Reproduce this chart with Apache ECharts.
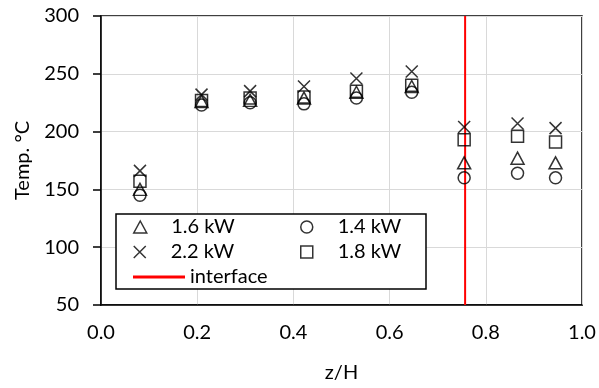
<!DOCTYPE html>
<html><head><meta charset="utf-8">
<script src="https://cdn.jsdelivr.net/npm/echarts@6/dist/echarts.min.js"></script>
<style>html,body{margin:0;padding:0;background:#fff}#c{width:599px;height:388px}</style>
</head><body><div id="c"></div>
<script>
const zPos = [0.081, 0.209, 0.31, 0.422, 0.531, 0.646, 0.755, 0.866, 0.945];
const kw16 = [150, 226, 227, 229, 234, 239, 173, 177, 173];
const kw14 = [145, 223, 225, 224, 229, 234, 160, 164, 160];
const kw22 = [166, 232, 235, 239, 246, 252, 204, 207, 203];
const kw18 = [157, 227, 229, 230, 235, 240, 193, 196, 191];
const interfaceZ = 0.757;
const yTicks = [50, 100, 150, 200, 250, 300];
const xTicks = [0, 0.2, 0.4, 0.6, 0.8, 1.0];

const FONT = 'Lato';
const X_PATH = 'path://M0,0L10,10M10,0L0,10';
const TRI_PATH = 'path://M6.5,0L13,12L0,12Z';
const SQ_PATH = 'path://M0,0L12,0L12,12L0,12Z';
function pts(vals){ return vals.map((v,i)=>[zPos[i], v]); }
function scat(name, vals, symbol, size){
  return {name, type:'scatter', data: pts(vals), symbol, symbolSize: size,
    itemStyle:{color:'rgba(0,0,0,0)', borderColor:'#000', borderWidth:1.5}, z:3};
}
const chart = echarts.init(document.getElementById('c'), null, {renderer:'canvas'});
const legendItem = (name, icon, left, top, h, style) => ({
  data:[{name, icon, itemStyle: style}], left, top, padding:0, itemWidth:52, itemHeight:h, itemGap:0,
  symbolKeepAspect:true,
  textStyle:{fontFamily:FONT, fontSize:20, color:'#000'}, selectedMode:false, z:6
});
const mk = {color:'rgba(0,0,0,0)', borderColor:'#000', borderWidth:1.5};
chart.setOption({
  animation:false,
  grid:{left:101, right:17, top:16, bottom:83, show:true, borderColor:'#000', borderWidth:1.5},
  xAxis:{type:'value', min:0, max:1, interval:0.2,
    name:'z/H', nameLocation:'middle', nameGap:58,
    nameTextStyle:{fontFamily:FONT, fontSize:20, color:'#000'},
    axisLine:{lineStyle:{color:'#000', width:1.5}}, axisTick:{show:false},
    axisLabel:{fontFamily:FONT, fontSize:20, color:'#000', margin:18,
      formatter:v=>xTicks.includes(+v.toFixed(1)) ? v.toFixed(1) : ''},
    splitLine:{lineStyle:{color:'#d9d9d9', width:1}}},
  yAxis:{type:'value', min:50, max:300, interval:50,
    name:'Temp. °C', nameLocation:'middle', nameGap:68,
    nameTextStyle:{fontFamily:FONT, fontSize:20, color:'#000'},
    axisLine:{show:true, lineStyle:{color:'#000', width:1.5}},
    axisTick:{show:true, length:8, lineStyle:{color:'#000', width:1.5}},
    axisLabel:{fontFamily:FONT, fontSize:20, color:'#000', margin:22,
      formatter:v=>yTicks.includes(v) ? String(v) : ''},
    splitLine:{lineStyle:{color:'#d9d9d9', width:1}}},
  graphic:[{type:'rect', shape:{x:116, y:214, width:310, height:75},
    style:{fill:'#fff', stroke:'#000', lineWidth:1.5}, z:5}],
  legend:[
    legendItem('1.6 kW', TRI_PATH, 133, 217, 12, mk),
    legendItem('1.4 kW', 'circle', 300, 217, 12, mk),
    legendItem('2.2 kW', X_PATH, 133, 242, 12, mk),
    legendItem('1.8 kW', SQ_PATH, 300, 242, 12, mk),
    legendItem('interface', 'rect', 133, 267, 3, {color:'#ff0000', borderWidth:0})
  ],
  series:[
    scat('1.6 kW', kw16, 'triangle', [13,12]),
    scat('1.4 kW', kw14, 'circle', 12),
    scat('2.2 kW', kw22, X_PATH, 12),
    scat('1.8 kW', kw18, 'rect', 12),
    {name:'interface', type:'line', data:[[interfaceZ,50],[interfaceZ,300]],
      symbol:'none', showSymbol:false, lineStyle:{color:'#ff0000', width:2}, itemStyle:{color:'#ff0000'}, z:2}
  ]
});
</script></body></html>
